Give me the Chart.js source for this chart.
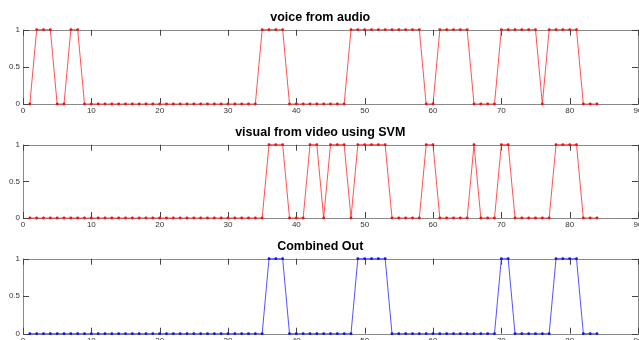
<!DOCTYPE html>
<html>
<head>
<meta charset="utf-8">
<script src="https://cdn.jsdelivr.net/npm/chart.js@4/dist/chart.umd.min.js"></script>
<style>
html,body{margin:0;padding:0;background:#fff;overflow:hidden;width:639px;height:340px;}
canvas{position:absolute;left:0;}
</style>
</head>
<body>
<canvas id="c1" width="642" height="117" style="top:0px"></canvas>
<canvas id="c2" width="642" height="117" style="top:115px"></canvas>
<canvas id="c3" width="642" height="117" style="top:229px"></canvas>
<script>
// ---- data ----
const frames = [1,2,3,4,5,6,7,8,9,10,11,12,13,14,15,16,17,18,19,20,21,22,23,24,25,26,27,28,29,30,31,32,33,34,35,36,37,38,39,40,41,42,43,44,45,46,47,48,49,50,51,52,53,54,55,56,57,58,59,60,61,62,63,64,65,66,67,68,69,70,71,72,73,74,75,76,77,78,79,80,81,82,83,84];
const voiceFromAudio = [0,1,1,1,0,0,1,1,0,0,0,0,0,0,0,0,0,0,0,0,0,0,0,0,0,0,0,0,0,0,0,0,0,0,1,1,1,1,0,0,0,0,0,0,0,0,0,1,1,1,1,1,1,1,1,1,1,1,0,0,1,1,1,1,1,0,0,0,0,1,1,1,1,1,1,0,1,1,1,1,1,0,0,0];
const visualFromVideo = [0,0,0,0,0,0,0,0,0,0,0,0,0,0,0,0,0,0,0,0,0,0,0,0,0,0,0,0,0,0,0,0,0,0,0,1,1,1,0,0,0,1,1,0,1,1,1,0,1,1,1,1,1,0,0,0,0,0,1,1,0,0,0,0,0,1,0,0,0,1,1,0,0,0,0,0,0,1,1,1,1,0,0,0];
const combinedOut = [0,0,0,0,0,0,0,0,0,0,0,0,0,0,0,0,0,0,0,0,0,0,0,0,0,0,0,0,0,0,0,0,0,0,0,1,1,1,0,0,0,0,0,0,0,0,0,0,1,1,1,1,1,0,0,0,0,0,0,0,0,0,0,0,0,0,0,0,0,1,1,0,0,0,0,0,0,1,1,1,1,0,0,0];
const xTicks = [0,10,20,30,40,50,60,70,80,90];
const yTicks = [0,0.5,1];
const titles = ["voice from audio","visual from video using SVM","Combined Out"];

const FONT = "'Liberation Sans', Arial, Helvetica, sans-serif";

const boxPlugin = {
  id: 'matlabBox',
  beforeDatasetsDraw(chart) {
    const {ctx, chartArea: a, scales} = chart;
    ctx.save();
    ctx.strokeStyle = '#8a8a8a';
    ctx.lineWidth = 1;
    ctx.strokeRect(Math.round(a.left)+0.5, Math.round(a.top)+0.5, Math.round(a.right-a.left), Math.round(a.bottom-a.top));
    ctx.strokeStyle = '#444';
    ctx.beginPath();
    xTicks.forEach(v => {
      const px = Math.round(scales.x.getPixelForValue(v)) + 0.5;
      ctx.moveTo(px, a.bottom); ctx.lineTo(px, a.bottom - 6);
      ctx.moveTo(px, a.top); ctx.lineTo(px, a.top + 6);
    });
    yTicks.forEach(v => {
      const py = Math.round(scales.y.getPixelForValue(v)) + 0.5;
      ctx.moveTo(a.left, py); ctx.lineTo(a.left + 6, py);
      ctx.moveTo(a.right, py); ctx.lineTo(a.right - 6, py);
    });
    ctx.stroke();
    ctx.restore();
  }
};

function makeChart(id, title, values, lineColor, dotColor, xAxisHeight) {
  new Chart(document.getElementById(id), {
    type: 'line',
    data: {
      labels: frames,
      datasets: [{
        data: frames.map((f, i) => ({x: f, y: values[i]})),
        borderColor: lineColor,
        backgroundColor: dotColor,
        borderWidth: 1,
        pointRadius: 1.4,
        pointBorderWidth: 0,
        pointBackgroundColor: dotColor,
        tension: 0,
        clip: false
      }]
    },
    options: {
      responsive: false,
      animation: false,
      devicePixelRatio: 1,
      layout: {padding: {top: 0, left: 0, right: 1.5, bottom: 0}},
      plugins: {
        legend: {display: false},
        tooltip: {enabled: false},
        title: {
          display: true,
          text: title,
          color: '#000',
          font: {family: FONT, size: 12.5, weight: 'bold', lineHeight: 1.2},
          padding: {top: 10, bottom: 4.7}
        }
      },
      scales: {
        x: {
          type: 'linear',
          min: 0, max: 90,
          grid: {display: false, drawTicks: false},
          border: {display: false},
          afterBuildTicks: s => { s.ticks = xTicks.map(v => ({value: v})); },
          afterFit: s => { s.height = xAxisHeight; s.paddingLeft = 0; s.paddingRight = 0; },
          ticks: {color: '#333', padding: 2, maxRotation: 0, autoSkip: false,
                  callback: v => String(v),
                  font: {family: FONT, size: 8}}
        },
        y: {
          min: 0, max: 1,
          grid: {display: false, drawTicks: false},
          border: {display: false},
          afterBuildTicks: s => { s.ticks = yTicks.map(v => ({value: v})); },
          afterFit: s => { s.width = 23; s.paddingTop = 0; s.paddingBottom = 0; },
          ticks: {color: '#333', padding: 3, callback: v => String(v),
                  font: {family: FONT, size: 8}}
        }
      }
    },
    plugins: [boxPlugin]
  });
}

makeChart('c1', titles[0], voiceFromAudio, 'rgba(255,40,40,0.8)', '#ee1111', 13);
makeChart('c2', titles[1], visualFromVideo, 'rgba(255,40,40,0.8)', '#ee1111', 14);
makeChart('c3', titles[2], combinedOut, 'rgba(40,40,255,0.8)', '#1111ee', 12.3);
</script>
</body>
</html>
